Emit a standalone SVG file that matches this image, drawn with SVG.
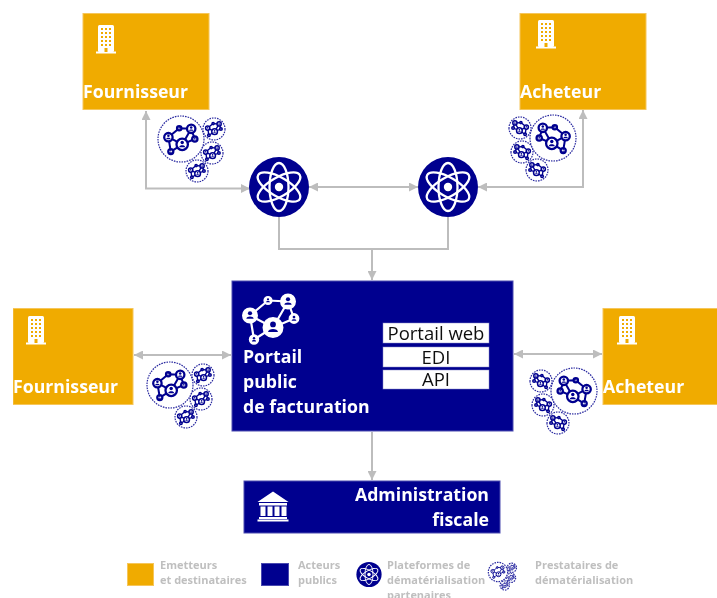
<svg xmlns="http://www.w3.org/2000/svg" width="717" height="598" viewBox="0 0 717 598">
<style>
text{font-family:"Open Sans","Noto Sans","DejaVu Sans",sans-serif}
.org{fill:#f0ab00;stroke:#f6c65a;stroke-width:1}
.nav{fill:#00008f;stroke:#4a4ab0;stroke-width:1}
.t{font-size:17.700px;font-weight:700;fill:#fff}
.b{font-size:18.500px;fill:#111;text-anchor:middle}
.w{fill:#fff;stroke:#8a8ac8;stroke-width:.5}
.l{font-size:11px;font-weight:700;fill:#bfbfbf}
.c{fill:none;stroke:#bdbdbd;stroke-width:2}
.d{fill:#fff;stroke:#2a2aa0;stroke-width:1.200;stroke-dasharray:1.600 1;vector-effect:non-scaling-stroke}
.lk{stroke:var(--c);stroke-width:var(--sw);fill:none}
.nd{stroke:var(--c);fill:var(--f);stroke-width:var(--sn)}
.pr{fill:var(--p)}
.wn{--c:#fff;--f:#fff;--p:#00008f;--sw:2.200;--sn:2}
.bn{--c:#00008f;--f:#fff;--p:#00008f;--sw:3.400;--sn:3.800}
.sm{--sw:4.500;--sn:5}
.orb{fill:none;stroke:#fff;stroke-width:2.300}
</style>
<defs>
<filter id="soft" x="0" y="0" width="100%" height="100%"><feGaussianBlur stdDeviation="0.45"/></filter>
<marker id="ah" viewBox="0 0 10 10" refX="10" refY="5" markerWidth="9" markerHeight="9" markerUnits="userSpaceOnUse" orient="auto-start-reverse"><path d="M0 0L10 5L0 10Z" fill="#bdbdbd"/></marker>
<g id="pers"><circle cx="0" cy="-1.600" r="1.500" class="pr"/><path d="M-2.600 2.400C-2.600 .2 2.600 .2 2.600 2.400Z" class="pr"/></g>
<g id="net">
<path class="lk" d="M-3-18L17-17M-3-18L-21-3M17-17L23 0M17-17L2 9M-21-3L2 9M-21-3L-17 21M2 9L-17 21M2 9L23 0"/>
<g class="nd"><circle cx="-3" cy="-18" r="3.600"/><circle cx="17" cy="-17" r="7"/><circle cx="-21" cy="-3" r="7"/><circle cx="2" cy="9" r="9.500"/><circle cx="23" cy="0" r="4.400"/><circle cx="-17" cy="21" r="4.200"/></g>
<use href="#pers" transform="translate(-3 -18) scale(.75)"/><use href="#pers" transform="translate(17 -17) scale(1.4)"/><use href="#pers" transform="translate(-21 -3) scale(1.4)"/><use href="#pers" transform="translate(2 9) scale(1.9)"/><use href="#pers" transform="translate(23 0) scale(.9)"/><use href="#pers" transform="translate(-17 21) scale(.8)"/>
</g>
<g id="cluster" class="bn">
<circle class="d" r="23"/><use href="#net" transform="scale(.6)"/>
<circle class="d" cx="33" cy="-10" r="11"/><use class="sm" href="#net" transform="translate(33 -10) scale(.3)"/>
<circle class="d" cx="31" cy="14" r="11"/><use class="sm" href="#net" transform="translate(31 14) scale(.3)"/>
<circle class="d" cx="16" cy="32" r="11"/><use class="sm" href="#net" transform="translate(16 32) scale(.3)"/>
</g>
<g id="atom">
<circle r="30" fill="#00008f"/>
<ellipse class="orb" rx="9.500" ry="24"/><ellipse class="orb" rx="9.500" ry="24" transform="rotate(60)"/><ellipse class="orb" rx="9.500" ry="24" transform="rotate(-60)"/>
<circle r="4.200" fill="#fff"/>
</g>
<g id="bld">
<rect x="2" y="0" width="16" height="27" rx="1.500" fill="#fff"/><rect x="0" y="26.500" width="20" height="2" fill="#fff"/>
<path d="M5 4h2M9 4h2M13 4h2M5 8h2M9 8h2M13 8h2M5 12h2M9 12h2M13 12h2M5 16h2M9 16h2M13 16h2M5 20h2M9 20h2M13 20h2" stroke="#f0ab00" stroke-width="2"/>
<rect x="8.500" y="23" width="3" height="4" fill="#f0ab00"/>
</g>
</defs>
<rect width="717" height="598" fill="#fff"/>
<g filter="url(#soft)">
<g id="connectors">
<path class="c" d="M146 111V188.500H250" marker-start="url(#ah)" marker-end="url(#ah)"/>
<path class="c" d="M309 187H418" marker-start="url(#ah)" marker-end="url(#ah)"/>
<path class="c" d="M478 187H583V110" marker-start="url(#ah)" marker-end="url(#ah)"/>
<path class="c" d="M279 216V249H448V216M372 249V280" marker-end="url(#ah)"/>
<path class="c" d="M134 355H231" marker-start="url(#ah)" marker-end="url(#ah)"/>
<path class="c" d="M514 354H602" marker-start="url(#ah)" marker-end="url(#ah)"/>
<path class="c" d="M372 432V480" marker-end="url(#ah)"/>
</g>

<g id="fournisseur-haut"><rect class="org" x="83" y="13.500" width="126" height="96"/><use href="#bld" transform="translate(96 25)"/><text class="t" x="83" y="98">Fournisseur</text></g>
<g id="acheteur-haut"><rect class="org" x="520" y="13.500" width="126" height="96"/><use href="#bld" transform="translate(536 20)"/><text class="t" x="520" y="98">Acheteur</text></g>
<g id="fournisseur-milieu"><rect class="org" x="13" y="308.500" width="120" height="96"/><use href="#bld" transform="translate(26 316)"/><text class="t" x="13" y="393">Fournisseur</text></g>
<g id="acheteur-milieu"><rect class="org" x="603" y="308.500" width="120" height="96"/><use href="#bld" transform="translate(617 316)"/><text class="t" x="603" y="393">Acheteur</text></g>

<g id="prestataires-1"><use href="#cluster" transform="translate(181 139)"/></g>
<g id="prestataires-2"><use href="#cluster" transform="translate(553 138) scale(-1 1)"/></g>
<g id="prestataires-3"><use href="#cluster" transform="translate(170 385)"/></g>
<g id="prestataires-4"><use href="#cluster" transform="translate(574 391) scale(-1 1)"/></g>

<g id="plateforme-1"><use href="#atom" transform="translate(279 187)"/></g>
<g id="plateforme-2"><use href="#atom" transform="translate(448 187)"/></g>

<g id="portail">
<rect class="nav" x="232" y="281" width="281" height="150"/>
<g class="wn"><use href="#net" transform="translate(271 318.500)"/></g>
<text class="t" x="243" y="363">Portail</text>
<text class="t" x="243" y="388">public</text>
<text class="t" x="243" y="413">de facturation</text>
<rect class="w" x="383" y="323" width="106" height="20"/><text class="b" x="436" y="339.500">Portail web</text>
<rect class="w" x="383" y="347" width="106" height="20"/><text class="b" x="436" y="363.500">EDI</text>
<rect class="w" x="383" y="370" width="106" height="19"/><text class="b" x="436" y="386">API</text>
</g>

<g id="administration">
<rect class="nav" x="244" y="481" width="256" height="52"/>
<path d="M273 491.500L288.500 502H257.500ZM259 503H287V505.500H259ZM260.500 506.500H265.500V516H260.500ZM267.500 506.500H272.500V516H267.500ZM274.500 506.500H279.500V516H274.500ZM281.500 506.500H286.500V516H281.500ZM259 517H287V519H259ZM257.500 519.500H288.500V521.500H257.500Z" fill="#fff"/>
<text class="t" x="489" y="501" text-anchor="end">Administration</text>
<text class="t" x="489" y="526" text-anchor="end">fiscale</text>
</g>

<g id="legende">
<rect class="org" x="127.500" y="563.500" width="26" height="22"/>
<text class="l" x="160" y="569">Emetteurs</text><text class="l" x="160" y="584">et destinataires</text>
<rect class="nav" x="261.500" y="563.500" width="27" height="22"/>
<text class="l" x="298" y="569">Acteurs</text><text class="l" x="298" y="584">publics</text>
<use href="#atom" transform="translate(369 574.500) scale(.42)"/>
<text class="l" x="387" y="569">Plateformes de</text><text class="l" x="387" y="584">dématérialisation</text><text class="l" x="387" y="599">partenaires</text>
<use href="#cluster" transform="translate(498 572) scale(.42)"/>
<text class="l" x="535" y="569">Prestataires de</text><text class="l" x="535" y="584">dématérialisation</text>
</g>
</g>
</svg>
